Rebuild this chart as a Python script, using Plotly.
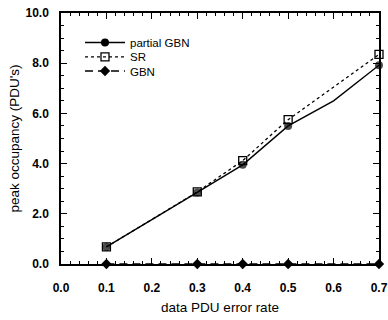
import plotly.graph_objects as go

error_rate = [0.1, 0.2, 0.3, 0.4, 0.5, 0.6, 0.7]
partial_gbn = [0.68, 1.75, 2.85, 3.95, 5.5, 6.5, 7.92]
partial_marker_shown = [True, False, True, True, True, False, True]

sr_rate = [0.1, 0.3, 0.4, 0.5, 0.7]
sr = [0.68, 2.87, 4.12, 5.75, 8.35]

gbn_rate = [0.1, 0.3, 0.4, 0.5, 0.7]
gbn = [0.0, 0.0, 0.0, 0.0, 0.0]

x_ticks = [0.0, 0.1, 0.2, 0.3, 0.4, 0.5, 0.6, 0.7]
y_ticks = [0.0, 2.0, 4.0, 6.0, 8.0, 10.0]

FONT = "Liberation Sans, Arial, sans-serif"
MS = 8
psizes = [MS if s else 0 for s in partial_marker_shown]

fig = go.Figure()

# data traces (no legend)
fig.add_trace(go.Scatter(
    x=sr_rate, y=sr, mode="lines+markers", showlegend=False, cliponaxis=False,
    line=dict(color="black", width=1.3, dash="dot"),
    marker=dict(symbol="square-open", size=MS, color="black", line=dict(width=1.3))))
fig.add_trace(go.Scatter(
    x=error_rate, y=partial_gbn, mode="lines+markers", showlegend=False, cliponaxis=False,
    line=dict(color="black", width=1.4),
    marker=dict(symbol="circle", size=psizes, color="black", line=dict(width=0))))
fig.add_trace(go.Scatter(
    x=gbn_rate, y=gbn, mode="lines+markers", showlegend=False, cliponaxis=False,
    line=dict(color="black", width=1.4, dash="8px,5px"),
    marker=dict(symbol="diamond", size=MS, color="black", line=dict(width=0))))

# legend entries (one legend each so spacing can match the reference)
fig.add_trace(go.Scatter(
    x=[None], y=[None], mode="lines+markers", name="partial GBN", legend="legend",
    line=dict(color="black", width=1.4),
    marker=dict(symbol="circle", size=MS, color="black")))
fig.add_trace(go.Scatter(
    x=[None], y=[None], mode="lines+markers", name="SR", legend="legend2",
    line=dict(color="black", width=1.3, dash="dot"),
    marker=dict(symbol="square-open", size=MS, color="black", line=dict(width=1.3))))
fig.add_trace(go.Scatter(
    x=[None], y=[None], mode="lines+markers", name="GBN", legend="legend3",
    line=dict(color="black", width=1.4, dash="8px,5px"),
    marker=dict(symbol="diamond", size=MS, color="black")))

PL, PR, PT, PB = 61, 379, 13, 264
def ypaper(py):
    return (PB - py) / (PB - PT)

leg_common = dict(xanchor="left", yanchor="middle", bgcolor="rgba(0,0,0,0)",
                  font=dict(size=11.5, family=FONT), itemwidth=40,
                  x=(80 - PL) / (PR - PL))

fig.update_layout(
    width=388, height=320,
    margin=dict(l=PL, r=388 - PR, t=PT, b=320 - PB),
    paper_bgcolor="white", plot_bgcolor="white",
    font=dict(family=FONT, color="black"),
    showlegend=True,
    legend=dict(y=ypaper(42.5), **leg_common),
    legend2=dict(y=ypaper(56.8), **leg_common),
    legend3=dict(y=ypaper(71), **leg_common),
)

axis_common = dict(
    showgrid=False, zeroline=False, showline=True, linecolor="black", linewidth=1.5,
    mirror="ticks", ticks="inside", ticklen=6, tickwidth=1.2, tickcolor="black",
    tickformat=".1f", automargin=False,
    tickfont=dict(size=12, family=FONT, weight="bold"),
)

fig.update_xaxes(
    range=[0, 0.7], tickvals=x_ticks, ticklabelstandoff=12,
    minor=dict(dtick=0.02, ticks="inside", ticklen=3, tickwidth=1, tickcolor="black"),
    title=dict(text="data PDU error rate", font=dict(size=13.5), standoff=8),
    **axis_common)
fig.update_yaxes(
    range=[0, 10], tickvals=y_ticks, ticklabelstandoff=8,
    minor=dict(dtick=0.5, ticks="inside", ticklen=3, tickwidth=1, tickcolor="black"),
    title=dict(text="peak occupancy (PDU's)", font=dict(size=13.5), standoff=3),
    **axis_common)

fig.write_html("out.html", config={"displayModeBar": False},
               post_script="document.body.style.margin='0';")
